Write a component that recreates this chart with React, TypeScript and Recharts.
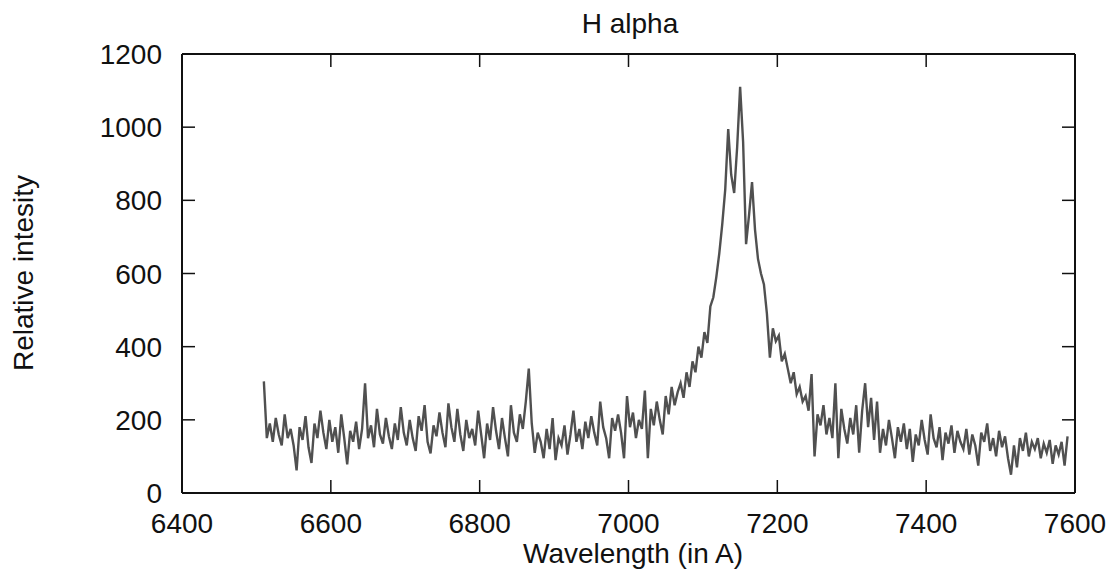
import React from 'react';
import { LineChart, Line, XAxis, YAxis, ReferenceLine } from 'recharts';

const startWavelength = 6510;
const stepWavelength = 4;
const intensities = [
  305, 150, 190, 140, 205, 160, 130, 215, 150, 175, // 6510
  130, 62, 180, 145, 210, 125, 82, 190, 150, 225, // 6550
  165, 120, 200, 140, 180, 110, 215, 150, 78, 170, // 6590
  140, 195, 120, 175, 300, 150, 185, 125, 230, 160, // 6630
  135, 205, 155, 120, 190, 145, 235, 165, 130, 200, // 6670
  150, 115, 210, 170, 240, 140, 108, 185, 155, 220, // 6710
  165, 125, 245, 180, 140, 230, 160, 115, 200, 150, // 6750
  175, 130, 225, 160, 95, 190, 145, 235, 170, 120, // 6790
  205, 150, 100, 240, 165, 140, 215, 175, 250, 340, // 6830
  190, 110, 165, 140, 95, 175, 120, 205, 90, 150, // 6870
  130, 185, 105, 160, 225, 140, 175, 120, 195, 150, // 6910
  210, 165, 130, 250, 180, 150, 95, 205, 170, 215, // 6950
  165, 95, 265, 180, 220, 150, 200, 175, 280, 95, // 6990
  230, 185, 250, 200, 160, 265, 215, 290, 240, 275, // 7030
  300, 260, 330, 290, 360, 330, 400, 370, 440, 410, // 7070
  510, 535, 590, 655, 735, 830, 995, 870, 820, 945, // 7110
  1110, 960, 680, 760, 850, 720, 640, 600, 570, 490, // 7150
  370, 450, 415, 430, 360, 380, 340, 300, 330, 270, // 7190
  290, 250, 265, 225, 325, 100, 215, 185, 240, 160, // 7230
  205, 150, 300, 95, 230, 175, 135, 205, 160, 240, // 7270
  110, 225, 300, 180, 260, 145, 250, 110, 175, 130, // 7310
  200, 150, 95, 180, 140, 190, 120, 175, 85, 160, // 7350
  130, 200, 145, 105, 215, 150, 125, 180, 90, 165, // 7390
  135, 185, 110, 170, 140, 120, 175, 105, 160, 130, // 7430
  75, 165, 140, 190, 115, 150, 100, 170, 125, 155, // 7470
  95, 50, 130, 70, 150, 115, 165, 100, 140, 120, // 7510
  150, 95, 135, 110, 145, 80, 130, 105, 140, 75, 155, // 7550
];

const xTicks = [6400, 6600, 6800, 7000, 7200, 7400, 7600];
const yTicks = [0, 200, 400, 600, 800, 1000, 1200];

const data = intensities.map((v, i) => ({
  wavelength: startWavelength + i * stepWavelength,
  intensity: v,
}));

const WIDTH = 1118;
const HEIGHT = 572;
const MARGIN = { top: 54, right: 43, left: 0, bottom: 0 };
const Y_AXIS_W = 182;
const X_AXIS_H = 79;
const PLOT_TOP = MARGIN.top;
const PLOT_RIGHT = WIDTH - MARGIN.right;
const TICK_LEN = 13;
const FONT = '"Liberation Sans", Arial, Helvetica, sans-serif';
const INK = '#111';

const XTick = ({ x, y, payload }: any) => (
  <g>
    <line x1={x} y1={y} x2={x} y2={y - TICK_LEN} stroke={INK} strokeWidth={1.5} />
    <line x1={x} y1={PLOT_TOP} x2={x} y2={PLOT_TOP + TICK_LEN} stroke={INK} strokeWidth={1.5} />
    <text x={x} y={y + 40} textAnchor="middle" fontFamily={FONT} fontSize={28} fill={INK}>
      {payload.value}
    </text>
  </g>
);

const YTick = ({ x, y, payload }: any) => (
  <g>
    <line x1={x} y1={y} x2={x + TICK_LEN} y2={y} stroke={INK} strokeWidth={1.5} />
    <line x1={PLOT_RIGHT} y1={y} x2={PLOT_RIGHT - TICK_LEN} y2={y} stroke={INK} strokeWidth={1.5} />
    <text x={x - 20} y={y + 10} textAnchor="end" fontFamily={FONT} fontSize={28} fill={INK}>
      {payload.value}
    </text>
  </g>
);

const Labels = () => (
  <g fontFamily={FONT} fontSize={28} fill={INK}>
    <text x={630} y={33} textAnchor="middle">H alpha</text>
    <text x={633} y={563} textAnchor="middle">Wavelength (in A)</text>
    <text x={33} y={273} textAnchor="middle" transform="rotate(-90 33 273)">
      Relative intesity
    </text>
  </g>
);

export default function App() {
  return (
    <div style={{ position: 'absolute', left: 0, top: 0, width: WIDTH, height: HEIGHT, background: '#fff' }}>
      <LineChart width={WIDTH} height={HEIGHT} data={data} margin={MARGIN}>
        <XAxis
          dataKey="wavelength"
          type="number"
          domain={[6400, 7600]}
          ticks={xTicks}
          allowDataOverflow
          height={X_AXIS_H}
          tickSize={0}
          tickMargin={0}
          tickLine={false}
          axisLine={{ stroke: INK, strokeWidth: 2 }}
          tick={<XTick />}
          interval={0}
          label={<Labels />}
        />
        <YAxis
          type="number"
          domain={[0, 1200]}
          ticks={yTicks}
          allowDataOverflow
          width={Y_AXIS_W}
          tickSize={0}
          tickMargin={0}
          tickLine={false}
          axisLine={{ stroke: INK, strokeWidth: 2 }}
          tick={<YTick />}
          interval={0}
        />
        <ReferenceLine y={1200} stroke={INK} strokeWidth={2} />
        <ReferenceLine x={7600} stroke={INK} strokeWidth={2} />
        <Line
          type="linear"
          dataKey="intensity"
          stroke="#505050"
          strokeWidth={2.4}
          strokeLinejoin="miter"
          dot={false}
          isAnimationActive={false}
        />
      </LineChart>
    </div>
  );
}
